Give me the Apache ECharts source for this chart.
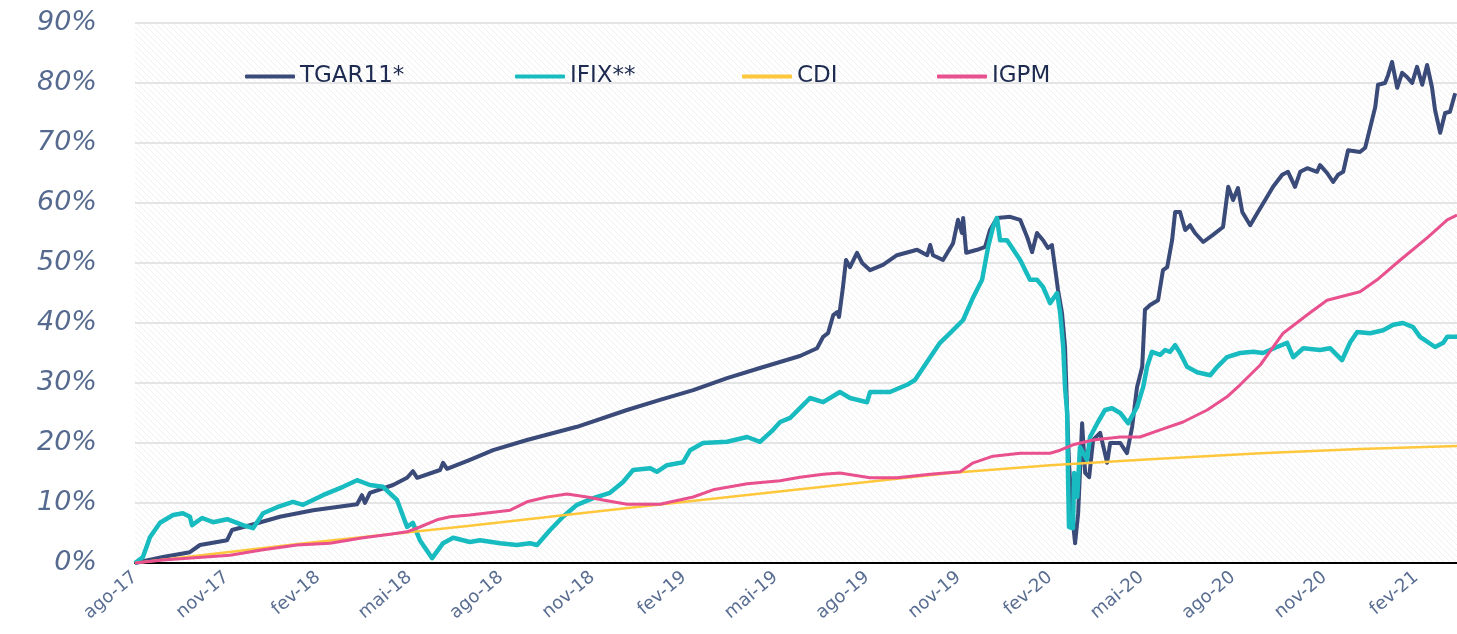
<!DOCTYPE html>
<html>
<head>
<meta charset="utf-8">
<script src="https://cdn.jsdelivr.net/npm/echarts@6/dist/echarts.min.js"></script>
<style>
  html, body { margin: 0; padding: 0; background: #fff; }
  #chart { width: 1457px; height: 634px; }
</style>
</head>
<body>
<div id="chart"></div>
<script>
// eixo x em meses desde ago-17, valores em %
const xLabels = ["ago-17", "nov-17", "fev-18", "mai-18", "ago-18", "nov-18", "fev-19",
  "mai-19", "ago-19", "nov-19", "fev-20", "mai-20", "ago-20", "nov-20", "fev-21"];
const seriesNames = ["TGAR11*", "IFIX**", "CDI", "IGPM"];

const tgar = [
  [0, 0], [0.92, 1.0], [1.8, 1.8], [2.13, 3.0], [3.02, 3.8], [3.18, 5.5], [3.77, 6.3],
  [4.75, 7.7], [5.84, 8.8], [7.28, 9.8], [7.44, 11.3], [7.54, 10.0], [7.7, 11.7],
  [8.46, 13.0], [8.92, 14.2], [9.11, 15.3], [9.25, 14.2], [10.0, 15.5], [10.1, 16.7],
  [10.23, 15.7], [10.98, 17.2], [11.74, 18.8], [12.85, 20.5], [14.49, 22.7],
  [16.13, 25.5], [17.21, 27.2], [18.3, 28.8], [19.41, 30.8], [20.49, 32.5],
  [21.8, 34.5], [22.36, 35.8], [22.56, 37.7], [22.72, 38.3], [22.89, 41.3],
  [23.02, 41.8], [23.08, 41.0], [23.21, 46.0], [23.31, 50.5], [23.44, 49.3],
  [23.67, 51.7], [23.84, 50.0], [24.1, 48.8], [24.52, 49.7], [24.98, 51.3],
  [25.64, 52.2], [25.97, 51.3], [26.07, 53.0], [26.16, 51.3], [26.49, 50.5],
  [26.82, 53.3], [26.98, 57.2], [27.11, 55.0], [27.15, 57.5], [27.25, 51.7],
  [27.61, 52.2], [27.87, 52.7], [28.03, 55.5], [28.26, 57.5], [28.69, 57.7],
  [29.02, 57.2], [29.25, 54.3], [29.41, 51.8], [29.57, 55.0], [29.77, 53.8],
  [29.93, 52.5], [30.06, 53.0], [30.16, 49.3], [30.26, 45.5], [30.39, 41.7],
  [30.49, 36.0], [30.56, 25.0], [30.62, 16.7], [30.72, 8.3], [30.82, 3.3],
  [30.92, 8.3], [31.05, 23.3], [31.15, 15.0], [31.28, 14.3], [31.41, 20.5],
  [31.64, 21.7], [31.87, 16.7], [31.97, 20.0], [32.3, 20.0], [32.52, 18.3],
  [32.69, 22.7], [32.85, 29.3], [33.02, 32.7], [33.11, 42.2], [33.28, 43.0],
  [33.54, 43.8], [33.7, 48.8], [33.84, 49.3], [34.0, 53.8], [34.1, 58.5],
  [34.26, 58.5], [34.43, 55.5], [34.59, 56.3], [34.75, 55.0], [35.02, 53.5],
  [35.34, 54.7], [35.67, 56.0], [35.84, 62.7], [36.0, 60.5], [36.16, 62.5],
  [36.3, 58.5], [36.56, 56.3], [36.79, 58.3], [37.11, 61.0], [37.31, 62.7],
  [37.61, 64.7], [37.8, 65.2], [38.03, 62.7], [38.2, 65.2], [38.43, 65.8],
  [38.75, 65.2], [38.85, 66.3], [39.08, 65.0], [39.28, 63.5], [39.44, 64.7],
  [39.61, 65.2], [39.77, 68.8], [40.16, 68.5], [40.33, 69.2], [40.49, 72.5],
  [40.66, 76.0], [40.75, 79.7], [40.98, 80.0], [41.08, 81.3], [41.21, 83.5],
  [41.38, 79.2], [41.54, 81.7], [41.7, 81.0], [41.87, 80.0], [42.03, 82.7],
  [42.2, 79.7], [42.36, 83.0], [42.52, 79.3], [42.62, 75.5], [42.79, 71.7],
  [42.95, 75.0], [43.11, 75.2], [43.28, 78.3]
];

const ifix = [
  [0, 0], [0.26, 1.0], [0.49, 4.3], [0.82, 6.7], [1.25, 8.0], [1.57, 8.3], [1.8, 7.7],
  [1.87, 6.3], [2.2, 7.5], [2.56, 6.8], [3.02, 7.3], [3.54, 6.3], [3.87, 5.8],
  [4.2, 8.3], [4.66, 9.3], [5.18, 10.2], [5.51, 9.7], [6.16, 11.3], [6.82, 12.7],
  [7.28, 13.8], [7.7, 13.0], [8.13, 12.7], [8.59, 10.5], [8.92, 6.0], [9.11, 6.7],
  [9.34, 3.8], [9.74, 0.8], [10.1, 3.3], [10.43, 4.2], [10.98, 3.5], [11.31, 3.8],
  [11.97, 3.3], [12.52, 3.0], [12.95, 3.3], [13.18, 3.0], [13.61, 5.5], [14.03, 7.7],
  [14.49, 9.7], [15.02, 10.8], [15.57, 11.7], [16.0, 13.5], [16.33, 15.5],
  [16.89, 15.8], [17.11, 15.2], [17.44, 16.3], [17.97, 16.8], [18.2, 18.8],
  [18.62, 20.0], [19.41, 20.2], [20.07, 21.0], [20.49, 20.2], [20.92, 22.2],
  [21.15, 23.5], [21.48, 24.2], [21.8, 25.8], [22.13, 27.5], [22.56, 26.8],
  [23.11, 28.5], [23.44, 27.5], [24.0, 26.8], [24.1, 28.5], [24.75, 28.5],
  [25.31, 29.7], [25.57, 30.5], [26.07, 34.3], [26.39, 36.7], [26.72, 38.3],
  [27.15, 40.5], [27.48, 44.3], [27.77, 47.2], [27.97, 52.7], [28.13, 56.0],
  [28.26, 57.5], [28.36, 53.8], [28.59, 53.8], [29.02, 50.5], [29.34, 47.2],
  [29.57, 47.2], [29.77, 46.0], [30.0, 43.3], [30.23, 45.0], [30.33, 41.7],
  [30.43, 36.0], [30.49, 29.3], [30.56, 25.0], [30.59, 13.8], [30.62, 6.0],
  [30.75, 5.8], [30.79, 15.0], [30.89, 11.0], [30.98, 19.3], [31.21, 17.2],
  [31.31, 21.0], [31.57, 23.5], [31.8, 25.5], [32.03, 25.8], [32.3, 25.0],
  [32.56, 23.3], [32.85, 26.0], [33.05, 29.3], [33.18, 32.7], [33.34, 35.2],
  [33.61, 34.7], [33.77, 35.5], [33.93, 35.2], [34.1, 36.3], [34.26, 35.0],
  [34.49, 32.7], [34.82, 31.8], [35.25, 31.3], [35.48, 32.7], [35.8, 34.3],
  [36.23, 35.0], [36.66, 35.2], [36.98, 35.0], [37.44, 36.0], [37.77, 36.7],
  [37.97, 34.3], [38.3, 35.8], [38.85, 35.5], [39.18, 35.8], [39.57, 33.8],
  [39.84, 36.8], [40.07, 38.5], [40.49, 38.3], [40.92, 38.8], [41.25, 39.7],
  [41.57, 40.0], [41.9, 39.3], [42.13, 37.7], [42.62, 36.0], [42.89, 36.7],
  [43.02, 37.7], [43.34, 37.7]
];

const cdi = [
  [0, 0], [5.41, 3.2], [10.98, 6.2], [16.23, 9.2], [21.8, 12.3], [26.72, 15.0],
  [30.0, 16.3], [33.28, 17.3], [36.89, 18.3], [40.16, 19.0], [43.34, 19.5]
];

const igpm = [
  [0, 0], [0.92, 0.5], [3.11, 1.3], [4.2, 2.2], [5.31, 3.0], [6.39, 3.3], [7.48, 4.2],
  [8.36, 4.8], [8.92, 5.2], [9.34, 6.0], [9.9, 7.2], [10.33, 7.7], [10.98, 8.0],
  [12.3, 8.8], [12.85, 10.2], [13.51, 11.0], [14.16, 11.5], [14.82, 11.0],
  [15.34, 10.5], [16.13, 9.8], [17.21, 9.8], [18.3, 11.0], [18.95, 12.2],
  [20.07, 13.2], [21.15, 13.7], [21.8, 14.3], [22.56, 14.8], [23.11, 15.0],
  [24.1, 14.2], [24.98, 14.2], [26.07, 14.8], [27.05, 15.2], [27.48, 16.7],
  [28.13, 17.8], [29.02, 18.3], [30.0, 18.3], [30.33, 18.8], [30.75, 19.7],
  [31.41, 20.5], [32.3, 21.0], [32.95, 21.0], [33.61, 22.2], [34.36, 23.5],
  [35.15, 25.5], [35.8, 27.7], [36.23, 29.7], [36.89, 33.0], [37.64, 38.3],
  [38.52, 41.7], [39.08, 43.8], [40.16, 45.2], [40.72, 47.2], [41.48, 50.5],
  [42.36, 54.2], [43.02, 57.2], [43.34, 58.0]
];

// fundo hachurado da área do gráfico
const hatch = document.createElement("canvas");
hatch.width = 6;
hatch.height = 6;
const hctx = hatch.getContext("2d");
hctx.strokeStyle = "rgba(0,0,0,0.06)";
hctx.lineWidth = 1;
hctx.beginPath();
hctx.moveTo(-1, -1);
hctx.lineTo(7, 7);
hctx.moveTo(-1, 5);
hctx.lineTo(1, 7);
hctx.moveTo(5, -1);
hctx.lineTo(7, 1);
hctx.stroke();

const chart = echarts.init(document.getElementById("chart"));
const colors = ["#3a4a79", "#18bcc0", "#ffc73c", "#e8508e"];
const widths = [4, 4.5, 2.5, 3];
const datas = [tgar, ifix, cdi, igpm];
const legendLeft = [240, 510, 737, 932];

chart.setOption({
  animation: false,
  backgroundColor: "#fff",
  grid: {
    show: true,
    left: 135,
    right: 0,
    top: 23,
    bottom: 71,
    borderWidth: 0,
    backgroundColor: { image: hatch, repeat: "repeat" },
  },
  legend: seriesNames.map((name, i) => ({
    top: 60,
    left: legendLeft[i],
    itemWidth: 50,
    itemHeight: 4,
    icon: "roundRect",
    textStyle: {
      fontFamily: "DejaVu Sans",
      fontSize: 23,
      color: "#1e2b50",
    },
    data: [name],
  })),
  xAxis: {
    type: "value",
    min: 0,
    max: 43.34,
    interval: 3,
    axisLine: { onZero: false, lineStyle: { color: "#000", width: 2 } },
    axisTick: { show: false },
    splitLine: { show: false },
    axisLabel: {
      rotate: 40,
      margin: 12,
      showMaxLabel: false,
      fontFamily: "DejaVu Sans",
      fontSize: 18,
      color: "#5a6e92",
      formatter: (v) => xLabels[Math.round(v / 3)] || "",
    },
  },
  yAxis: {
    type: "value",
    min: 0,
    max: 90,
    interval: 10,
    axisLine: { show: false },
    axisTick: { show: false },
    splitLine: { lineStyle: { color: "#e4e4e4", width: 2 } },
    axisLabel: {
      margin: 38,
      fontFamily: "DejaVu Sans",
      fontStyle: "italic",
      fontSize: 27,
      color: "#566a8f",
      formatter: "{value}%",
    },
  },
  series: seriesNames.map((name, i) => ({
    name: name,
    type: "line",
    data: datas[i],
    showSymbol: false,
    symbol: "none",
    lineStyle: { color: colors[i], width: widths[i], join: "round" },
    itemStyle: { color: colors[i] },
  })),
});
</script>
</body>
</html>
